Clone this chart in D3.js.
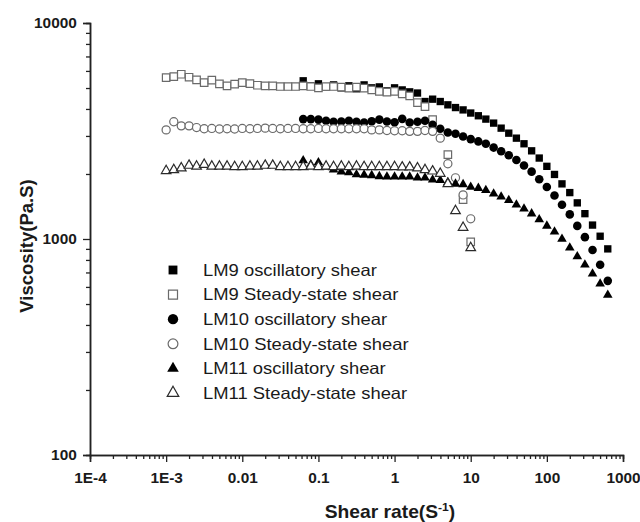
<!DOCTYPE html>
<html>
<head>
<meta charset="utf-8">
<script src="https://cdn.jsdelivr.net/npm/d3@7"></script>
<style>
  body { margin: 0; background: #fff; }
  text { font-family: "Liberation Sans", Arial, sans-serif; fill: #1a1a1a; }
</style>
</head>
<body>
<div id="chart"></div>
<script>
'use strict';

const width = 640;
const height = 522;

// shear rates (1/s)
const steadyRate = [0.001, 0.00126, 0.00158, 0.002, 0.00251, 0.00316, 0.00398, 0.00501, 0.00631, 0.00794,
    0.01, 0.0126, 0.0158, 0.02, 0.0251, 0.0316, 0.0398, 0.0501, 0.0631, 0.0794,
    0.1, 0.126, 0.158, 0.2, 0.251, 0.316, 0.398, 0.501, 0.631, 0.794,
    1, 1.26, 1.58, 2, 2.51, 3.16, 3.98, 5.01, 6.31, 7.94, 10];
const oscRate = [0.0631, 0.0794, 0.1, 0.126, 0.158, 0.2, 0.251, 0.316, 0.398, 0.501,
    0.631, 0.794, 1, 1.26, 1.58, 2, 2.51, 3.16, 3.98, 5.01,
    6.31, 7.94, 10, 12.6, 15.8, 20, 25.1, 31.6, 39.8, 50.1,
    63.1, 79.4, 100, 126, 158, 200, 251, 316, 398, 501, 631];

// viscosity (Pa.S)
const lm9Osc = [5400, 5120, 5230, 5060, 5170, 5010, 5120, 4960, 5170, 5010,
    5060, 4850, 5010, 4900, 4800, 4740, 4330, 4440, 4330, 4180,
    4060, 3960, 3830, 3720, 3590, 3440, 3260, 3090, 2930, 2760,
    2560, 2370, 2170, 1990, 1800, 1640, 1470, 1310, 1160, 1030, 900];
const lm9Steady = [5590, 5650, 5790, 5610, 5450, 5300, 5440, 5230, 5120, 5210,
    5300, 5240, 5150, 5120, 5120, 5080, 5080, 5080, 5120, 5080,
    5010, 5080, 5080, 5050, 4990, 5050, 4990, 4900, 4820, 4790,
    4820, 4700, 4600, 4280, 4100, 3570, null, 2460, null, 1520, 970];
const lm10Osc = [3590, 3590, 3570, 3530, 3490, 3500, 3530, 3490, 3460, 3510,
    3570, 3500, 3470, 3600, 3460, 3490, 3530, 3380, 3240, 3110,
    3070, 2980, 2900, 2830, 2760, 2650, 2550, 2440, 2320, 2190,
    2050, 1890, 1740, 1590, 1440, 1300, 1150, 1020, 890, 760, 640];
const lm10Steady = [3200, 3490, 3340, 3340, 3280, 3240, 3250, 3230, 3240, 3230,
    3250, 3240, 3250, 3260, 3250, 3240, 3250, 3250, 3240, 3240,
    3250, 3240, 3240, 3240, 3240, 3240, 3240, 3200, 3200, 3180,
    3170, 3170, 3150, 3150, 3180, 3150, 2930, 2230, 1920, 1600, 1240];
const lm11Osc = [2310, 2210, 2260, 2160, 2090, 2050, 2030, 1990, 1980, 1970,
    1950, 1940, 1940, 1940, 1940, 1920, 1920, 1880, 1870, 1830,
    1800, 1790, 1740, 1720, 1680, 1620, 1570, 1510, 1440, 1380,
    1310, 1230, 1150, 1080, 1000, 910, 830, 760, 690, 620, 550];
const lm11Steady = [2070, 2090, 2130, 2190, 2170, 2210, 2170, 2170, 2170, 2160,
    2160, 2170, 2170, 2190, 2190, 2160, 2160, 2160, 2160, 2170,
    2160, 2170, 2160, 2170, 2160, 2170, 2160, 2160, 2160, 2160,
    2160, 2150, 2150, 2130, 2090, 2060, 2010, 1800, 1350, 1130, 910];

const legendLabels = ['LM9 oscillatory shear', 'LM9 Steady-state shear',
    'LM10 oscillatory shear', 'LM10 Steady-state shear',
    'LM11 oscillatory shear', 'LM11 Steady-state shear'];

const xTicks = [1e-4, 1e-3, 0.01, 0.1, 1, 10, 100, 1000];
const xTickLabels = ['1E-4', '1E-3', '0.01', '0.1', '1', '10', '100', '1000'];
const yTicks = [100, 1000, 10000];
const yTickLabels = ['100', '1000', '10000'];

const series = [
    {label: legendLabels[0], rate: oscRate, values: lm9Osc, symbol: d3.symbolSquare, size: 54, open: false},
    {label: legendLabels[1], rate: steadyRate, values: lm9Steady, symbol: d3.symbolSquare, size: 56, open: true, color: '#6a6a6a'},
    {label: legendLabels[2], rate: oscRate, values: lm10Osc, symbol: d3.symbolCircle, size: 58, open: false},
    {label: legendLabels[3], rate: steadyRate, values: lm10Steady, symbol: d3.symbolCircle, size: 52, open: true, color: '#6a6a6a'},
    {label: legendLabels[4], rate: oscRate, values: lm11Osc, symbol: d3.symbolTriangle, size: 40, open: false},
    {label: legendLabels[5], rate: steadyRate, values: lm11Steady, symbol: d3.symbolTriangle, size: 40, open: true, color: '#2a2a2a'}
];

const margin = {left: 90, right: 17, top: 23, bottom: 67};

const x = d3.scaleLog()
    .domain([1e-4, 1000])
    .range([margin.left, width - margin.right]);
const y = d3.scaleLog()
    .domain([100, 10000])
    .range([height - margin.bottom, margin.top]);

const svg = d3.select('#chart').append('svg')
    .attr('width', width)
    .attr('height', height);

function minorTicks(lo, hi) {
    let out = [];
    for (let e = Math.log10(lo); e < Math.log10(hi); e++) {
        for (let m = 2; m < 10; m++) out.push(m * Math.pow(10, e));
    }
    return out;
}

// axes
const xAxisG = svg.append('g')
    .attr('transform', `translate(0,${y(100)})`);
xAxisG.append('g')
    .call(d3.axisBottom(x).tickValues(minorTicks(1e-4, 1000)).tickSize(4).tickFormat(''));
xAxisG.append('g')
    .call(d3.axisBottom(x).tickValues(xTicks).tickSize(7).tickPadding(11)
        .tickFormat((d, i) => xTickLabels[i]));

const yAxisG = svg.append('g')
    .attr('transform', `translate(${x(1e-4)},0)`);
yAxisG.append('g')
    .call(d3.axisLeft(y).tickValues(minorTicks(100, 10000)).tickSize(4).tickFormat(''));
yAxisG.append('g')
    .call(d3.axisLeft(y).tickValues(yTicks).tickSize(7).tickPadding(5)
        .tickFormat((d, i) => yTickLabels[i]));

svg.selectAll('.domain').attr('stroke', '#222').attr('stroke-width', 1.5);
svg.selectAll('.tick line').attr('stroke', '#222').attr('stroke-width', 1.3);
svg.selectAll('.tick text')
    .attr('font-size', 14)
    .attr('font-weight', 'bold')
    .attr('fill', '#1a1a1a')
    .attr('transform', 'scale(1.1,1)');

// axis titles
svg.append('text')
    .attr('transform', `translate(33,${(margin.top + y(100)) / 2 + 7}) rotate(-90)`)
    .attr('text-anchor', 'middle')
    .attr('font-size', 18.5)
    .attr('font-weight', 'bold')
    .text('Viscosity(Pa.S)');

const xTitle = svg.append('text')
    .attr('transform', `translate(390,518) scale(1.1,1)`)
    .attr('text-anchor', 'middle')
    .attr('font-size', 17.5)
    .attr('font-weight', 'bold');
xTitle.append('tspan').text('Shear rate(S');
xTitle.append('tspan').attr('font-size', 11).attr('dy', -7).text('-1');
xTitle.append('tspan').attr('dy', 7).text(')');

// points
const plot = svg.append('g');
series.forEach(s => {
    const sym = d3.symbol().type(s.symbol).size(s.size);
    const pts = s.values.map((v, i) => [s.rate[i], v]).filter(d => d[1] != null);
    plot.append('g').selectAll('path')
        .data(pts)
        .enter().append('path')
        .attr('transform', d => `translate(${x(d[0])},${y(d[1])})`)
        .attr('d', sym)
        .attr('fill', s.open ? '#fff' : '#000')
        .attr('stroke', s.open ? s.color : 'none')
        .attr('stroke-width', s.open ? 1.2 : 0);
});

// legend
const legend = svg.append('g');
series.forEach((s, i) => {
    const row = legend.append('g')
        .attr('transform', `translate(173,${270 + i * 24.6})`);
    row.append('path')
        .attr('d', d3.symbol().type(s.symbol).size(s.size * 1.45))
        .attr('fill', s.open ? '#fff' : '#000')
        .attr('stroke', s.open ? s.color : 'none')
        .attr('stroke-width', s.open ? 1.2 : 0);
    row.append('text')
        .attr('transform', 'translate(30,0) scale(1.13,1)')
        .attr('dy', '0.36em')
        .attr('font-size', 16.3)
        .text(s.label);
});
</script>
</body>
</html>
